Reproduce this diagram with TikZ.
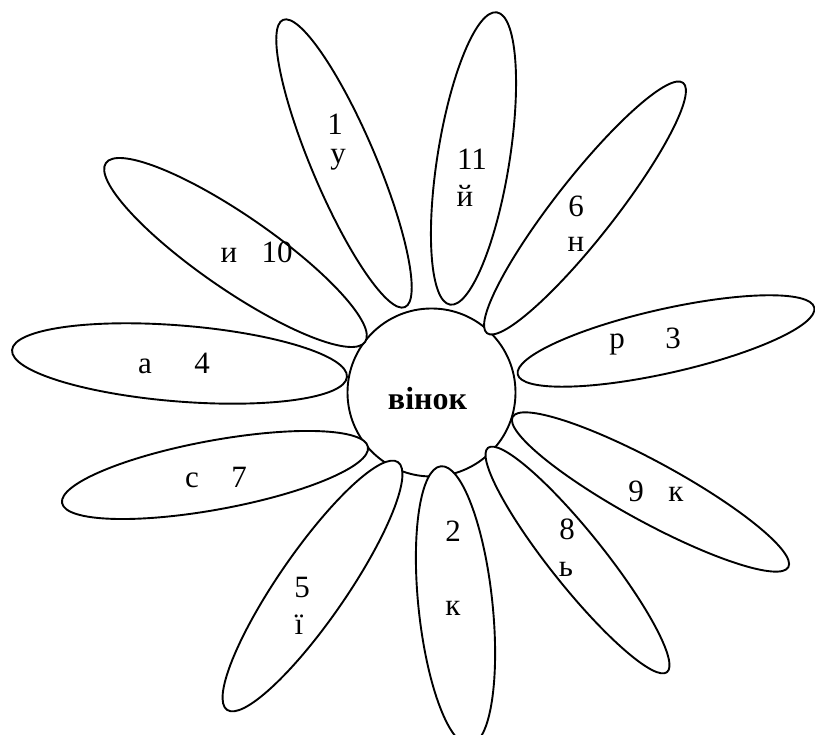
\documentclass[tikz,border=0pt]{standalone}
\usepackage{fontspec}
\setmainfont{Liberation Serif}
\usetikzlibrary{shapes.geometric}
\tikzset{
  petal/.style={ellipse, draw, fill=white, line width=1.9pt, inner sep=0pt},
  lbl/.style={anchor=base, inner sep=0pt, font=\fontsize{31}{36}\selectfont},
  core/.style={circle, draw, fill=white, line width=1.9pt, inner sep=0pt, minimum size=168pt},
  corelbl/.style={anchor=base, inner sep=0pt, font=\fontsize{32}{38}\selectfont\bfseries}
}
\newcommand{\petalnode}[6]{%
  \node[petal, minimum width=#4pt, minimum height=#5pt, rotate=#6] (#1) at (#2,#3) {};}
\begin{document}
\begin{tikzpicture}[x=1pt,y=1pt]
\useasboundingbox (0,0) rectangle (815,735);
\clip (0,0) rectangle (815,735);
\node[core] (c) at (431.5,342.5) {};
\petalnode{p1}{344}{571.5}{312}{64}{113}
\petalnode{p11}{473.5}{576.5}{296}{72}{80.9}
\petalnode{p6}{585}{527}{318}{60}{51.9}
\petalnode{p3}{666}{394}{304}{64}{12.7}
\petalnode{p9}{650.5}{243}{314}{60}{-28.6}
\petalnode{p8}{577.5}{175}{287}{54}{-51.4}
\petalnode{p2}{455.5}{129.5}{280}{74}{-84}
\petalnode{p5}{312.5}{149}{301}{68}{55.4}
\petalnode{p7}{215}{260}{311}{69}{10.4}
\petalnode{p4}{179.5}{371.5}{336}{76}{-4.6}
\petalnode{p10}{235.5}{482.5}{315}{74}{-34.6}
\node[corelbl] (w) at (427.5,325) {вінок};
\node[lbl] (t1a) at (335,600) {1};
\node[lbl] (t1b) at (338,571.5) {у};
\node[lbl] (t10a) at (229,472) {и};
\node[lbl] (t10b) at (277,472) {10};
\node[lbl] (t4a) at (145,361) {а};
\node[lbl] (t4b) at (202,361) {4};
\node[lbl] (t11a) at (472,565) {11};
\node[lbl] (t11b) at (465,528) {й};
\node[lbl] (t6a) at (576,518) {6};
\node[lbl] (t6b) at (576,483) {н};
\node[lbl] (t3a) at (617,386) {р};
\node[lbl] (t3b) at (673,386) {3};
\node[lbl] (t7a) at (192,247.5) {с};
\node[lbl] (t7b) at (239,247.5) {7};
\node[lbl] (t5a) at (302,137) {5};
\node[lbl] (t5b) at (299,100) {ї};
\node[lbl] (t2a) at (453,193) {2};
\node[lbl] (t2b) at (453,119) {к};
\node[lbl] (t8a) at (567,195) {8};
\node[lbl] (t8b) at (566,158) {ь};
\node[lbl] (t9a) at (636,233) {9};
\node[lbl] (t9b) at (676,233) {к};
\end{tikzpicture}
\end{document}
